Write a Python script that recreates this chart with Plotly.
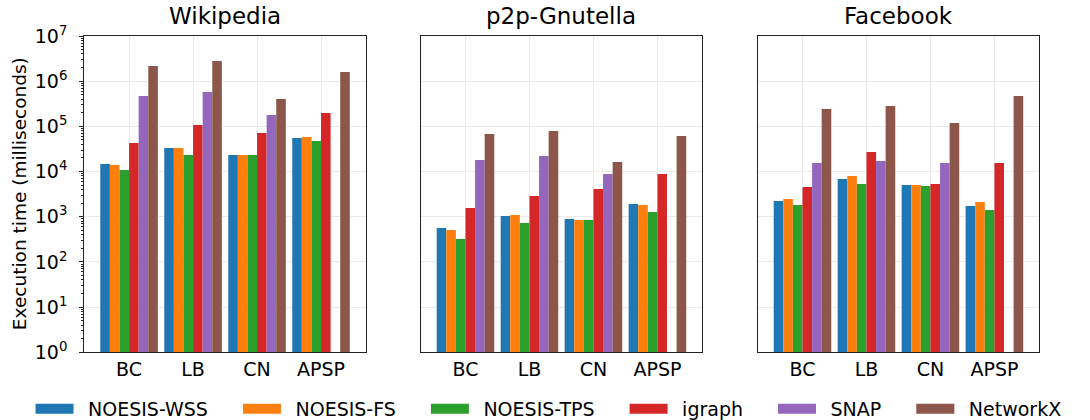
import plotly.graph_objects as go

categories = ["BC", "LB", "CN", "APSP"]
datasets = ["Wikipedia", "p2p-Gnutella", "Facebook"]
libraries = ["NOESIS-WSS", "NOESIS-FS", "NOESIS-TPS", "igraph", "SNAP", "NetworkX"]
colors = ["#1f77b4", "#ff7f0e", "#2ca02c", "#d62728", "#9467bd", "#8c564b"]

# Wikipedia (ms)
wiki_wss = [14700, 33200, 23300, 55300]
wiki_fs = [14000, 33200, 23300, 58200]
wiki_tps = [10800, 23300, 23300, 47500]
wiki_igraph = [42900, 107000, 71400, 198000]
wiki_snap = [470000, 577000, 178000, None]
wiki_networkx = [2170000, 2800000, 404000, 1600000]

# p2p-Gnutella (ms)
gnu_wss = [564, 1040, 892, 1916]
gnu_fs = [510, 1094, 847, 1820]
gnu_tps = [322, 728, 847, 1274]
gnu_igraph = [1563, 2880, 4110, 8840]
gnu_snap = [18000, 22100, 8840, None]
gnu_networkx = [67800, 79000, 16300, 61300]

# Facebook (ms)
fb_wss = [2233, 6850, 5050, 1730]
fb_fs = [2473, 7990, 5050, 2120]
fb_tps = [1821, 5310, 4800, 1413]
fb_igraph = [4560, 27100, 5310, 15500]
fb_snap = [15500, 17100, 15500, None]
fb_networkx = [242000, 283000, 119000, 470000]

series = [
    [wiki_wss, wiki_fs, wiki_tps, wiki_igraph, wiki_snap, wiki_networkx],
    [gnu_wss, gnu_fs, gnu_tps, gnu_igraph, gnu_snap, gnu_networkx],
    [fb_wss, fb_fs, fb_tps, fb_igraph, fb_snap, fb_networkx],
]

ytickvals = [10 ** k for k in range(8)]
yticktext = ["10<sup>%d</sup>" % k for k in range(8)]

W, H = 1090, 420
FONT = "DejaVu Sans"

fig = go.Figure()

for p, data in enumerate(series):
    xa = "x" if p == 0 else "x%d" % (p + 1)
    ya = "y" if p == 0 else "y%d" % (p + 1)
    for lib, col, vals in zip(libraries, colors, data):
        fig.add_trace(go.Bar(
            x=categories, y=vals, name=lib, marker=dict(color=col, line=dict(width=0)),
            xaxis=xa, yaxis=ya, showlegend=False,
        ))

# legend-only entries (wide swatches); spaces only pad the legend layout
for i, (lib, col) in enumerate(zip(libraries, colors)):
    pad_after = "" if i == len(libraries) - 1 else "\u2003\u00a0"
    fig.add_trace(go.Scatter(
        x=[None], y=[None], mode="lines", name="\u2002" + lib + pad_after,
        line=dict(color=col, width=14), xaxis="x", yaxis="y", showlegend=True,
    ))

left_px = [84.3, 420.7, 757.7]
width_px = 281.5
top_px, bot_px = 36, 352.3
ydom = [1 - bot_px / H, 1 - top_px / H]

layout = dict(
    width=W, height=H,
    margin=dict(l=0, r=0, t=0, b=0, autoexpand=False),
    template="none",
    paper_bgcolor="white", plot_bgcolor="white",
    font=dict(family=FONT, size=19, color="black"),
    barmode="group", bargap=0.1, bargroupgap=0,
    showlegend=True,
    legend=dict(
        orientation="h", x=0.028, xanchor="left", y=1 - 409 / H, yanchor="middle",
        font=dict(size=19, family=FONT), itemwidth=38, bgcolor="rgba(0,0,0,0)",
        traceorder="normal",
    ),
)

annotations = []
for p in range(3):
    xk = "xaxis" if p == 0 else "xaxis%d" % (p + 1)
    yk = "yaxis" if p == 0 else "yaxis%d" % (p + 1)
    xd = [left_px[p] / W, (left_px[p] + width_px) / W]
    layout[xk] = dict(
        domain=xd, anchor="y" if p == 0 else "y%d" % (p + 1),
        type="category", range=[-0.7, 3.7],
        showgrid=True, gridcolor="#ebebeb", gridwidth=1,
        showline=True, linecolor="#222222", linewidth=1.3, mirror=True,
        ticks="", tickfont=dict(size=19), automargin=False, zeroline=False,
    )
    ydict = dict(
        domain=ydom, anchor="x" if p == 0 else "x%d" % (p + 1),
        type="log", range=[0, 7],
        tickvals=ytickvals, ticktext=yticktext,
        showgrid=True, gridcolor="#ebebeb", gridwidth=1,
        showline=True, linecolor="#222222", linewidth=1.3, mirror=True,
        automargin=False, zeroline=False,
    )
    if p == 0:
        ydict.update(
            ticks="outside", ticklen=4, tickcolor="#222222", tickwidth=1,
            tickfont=dict(size=19), ticklabelstandoff=8,
            minor=dict(ticks="outside", ticklen=2, tickcolor="#222222", dtick="D1", showgrid=False),
        )
    else:
        ydict.update(showticklabels=False, ticks="")
    layout[yk] = ydict
    annotations.append(dict(
        text=datasets[p], xref="paper", yref="paper",
        x=(left_px[p] + width_px / 2) / W, xanchor="center",
        y=1 - 31 / H, yanchor="bottom", showarrow=False,
        font=dict(size=23, family=FONT, color="black"),
    ))

annotations.append(dict(
    text="Execution time (milliseconds)", xref="paper", yref="paper",
    x=19 / W, y=1 - ((top_px + bot_px) / 2) / H, xanchor="center", yanchor="middle",
    textangle=-90, showarrow=False, font=dict(size=18.5, family=FONT, color="black"),
))
layout["annotations"] = annotations

fig.update_layout(**layout)
fig.write_html("out.html")
